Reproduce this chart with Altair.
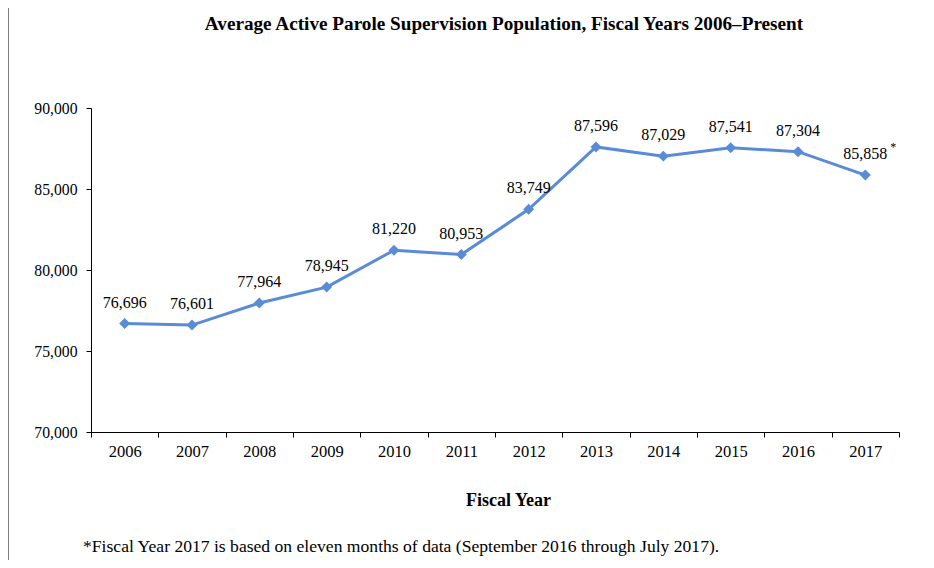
import altair as alt
import pandas as pd

years = ["2006", "2007", "2008", "2009", "2010", "2011", "2012", "2013", "2014", "2015", "2016", "2017"]
population = [76696, 76601, 77964, 78945, 81220, 80953, 83749, 87596, 87029, 87541, 87304, 85858]
title_text = ["Average Active Parole Supervision Population, Fiscal Years 2006\u2013Present"]
footnote_text = ["*Fiscal Year 2017 is based on eleven months of data (September 2016 through July 2017)."]

df = pd.DataFrame({"year": years, "pop": population})
df["label"] = [f"{v:,}" for v in population]

FONT = "Liberation Serif"
BLUE = "#5A8BD6"

x = alt.X("year:O", title="Fiscal Year",
          scale=alt.Scale(paddingInner=0, paddingOuter=0),
          axis=alt.Axis(labelAngle=0, tickBand="extent", tickSize=5, labelPadding=6,
                        titlePadding=32, titleX=417, titleAlign="center", domainColor="black", tickColor="black",
                        labelFont=FONT, labelFontSize=16.5, labelColor="black",
                        titleFont=FONT, titleFontSize=18, titleFontWeight="bold", titleColor="black"))
y = alt.Y("pop:Q", title=None,
          scale=alt.Scale(domain=[70000, 90000], nice=False, zero=False),
          axis=alt.Axis(values=[70000, 75000, 80000, 85000, 90000], format=",.0f", tickSize=5,
                        labelPadding=9, grid=False, domainColor="black", tickColor="black",
                        labelFont=FONT, labelFontSize=15.7, labelColor="black"))

base = alt.Chart(df)
line = base.mark_line(color=BLUE, strokeWidth=3).encode(x=x, y=y)
pts = base.mark_point(shape="diamond", filled=True, size=120, color=BLUE, opacity=1).encode(x=x, y=y)
labels = base.mark_text(font=FONT, fontSize=16, color="black", dy=-21).encode(x=x, y=y, text="label:N")

star_df = df[df["year"] == "2017"]
star = alt.Chart(star_df).mark_text(text="*", font=FONT, fontSize=12, color="black", dx=28, dy=-28).encode(x=x, y=y)

foot = alt.Chart(pd.DataFrame({"t": footnote_text})).mark_text(
    font=FONT, fontSize=17.6, color="black", align="left", baseline="middle"
).encode(x=alt.value(-8), y=alt.value(439), text="t:N")

ttl = alt.Chart(pd.DataFrame({"t": title_text})).mark_text(
    font=FONT, fontSize=19.2, fontWeight="bold", color="black", align="center", baseline="middle"
).encode(x=alt.value(413), y=alt.value(-84), text="t:N")

border = alt.Chart(pd.DataFrame({"a": [0]})).mark_rule(color="black", strokeWidth=1).encode(
    x=alt.value(-83), y=alt.value(-100), y2=alt.value(452))

chart = alt.layer(border, line, pts, labels, star, foot, ttl).properties(
    width=808, height=324,
    autosize=alt.AutoSizeParams(type="none"),
    padding={"left": 83, "top": 100, "right": 27, "bottom": 128},
).configure(background="white").configure_view(stroke=None)

chart.save("out.html", embed_options={"renderer": "svg", "actions": False})
